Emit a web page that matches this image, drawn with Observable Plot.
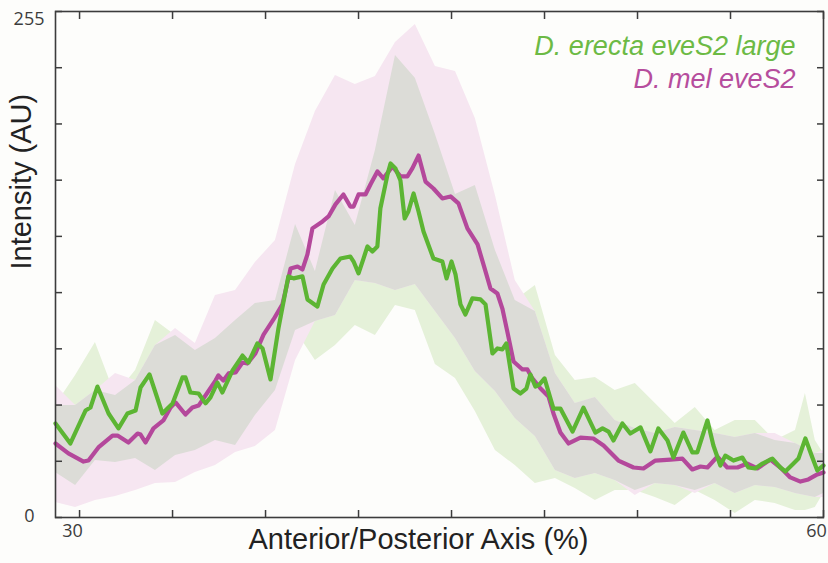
<!DOCTYPE html>
<html>
<head>
<meta charset="utf-8">
<script src="https://cdn.jsdelivr.net/npm/d3@7"></script>
<script src="https://cdn.jsdelivr.net/npm/@observablehq/plot@0.6"></script>
<style>
  html, body { margin: 0; padding: 0; background: #fdfdfb; }
  #chart { width: 828px; height: 563px; }
</style>
</head>
<body>
<div id="chart"></div>
<script>
// ---- Data ----
// D. erecta eveS2 large (green) mean line
const erectaX = [29.03,29.63,30.24,30.44,30.72,31.17,31.57,31.93,32.26,32.46,32.82,33.34,33.75,34.15,34.27,34.47,34.80,35.08,35.28,35.56,35.76,36.17,36.57,36.81,37.17,37.38,37.70,38.02,38.42,38.63,38.99,39.19,39.59,39.84,40.20,40.52,40.92,41.05,41.25,41.45,41.61,41.81,42.01,42.13,42.42,42.54,42.74,42.94,43.11,43.26,43.47,43.67,43.87,44.27,44.63,44.80,45.00,45.16,45.36,45.56,45.84,46.17,46.37,46.65,46.85,47.05,47.21,47.50,47.78,48.02,48.18,48.38,48.54,48.75,49.11,49.39,49.88,50.32,50.80,51.09,51.33,51.53,51.89,52.21,52.62,53.02,53.34,53.71,53.95,54.35,54.71,54.91,55.32,55.56,55.84,56.04,56.37,56.73,56.97,57.25,57.54,57.94,58.26,58.46,58.79,58.99,59.27,59.55,59.75,60.00];
const erectaY = [47.4,37.3,53.9,55.4,66.0,52.4,44.9,52.4,53.9,65.5,72.1,52.4,57.5,70.6,70.6,63.0,62.5,57.5,60.5,68.0,63.0,74.1,81.6,78.1,87.7,85.2,69.6,95.3,121.5,120.5,121.5,109.9,106.3,117.4,125.5,130.5,131.5,129.0,123.0,130.5,136.6,134.1,136.6,155.7,172.9,178.4,175.9,169.8,150.7,154.2,163.3,154.2,144.1,130.5,129.0,120.5,129.0,122.5,107.4,102.3,110.4,109.9,107.4,82.7,85.2,84.7,87.7,65.0,62.5,65.0,72.1,66.0,67.0,70.1,54.9,54.9,43.3,55.4,42.8,44.9,43.3,38.8,47.4,42.3,45.4,33.3,44.9,38.8,30.2,42.8,32.8,32.8,48.9,36.3,26.2,31.2,28.7,30.2,25.2,24.7,27.2,29.7,25.2,23.2,27.2,29.7,39.8,30.2,23.7,26.2];

// D. mel eveS2 (magenta) mean line
const melX = [29.03,29.55,30.16,30.36,30.76,31.33,31.53,31.97,32.34,32.46,32.66,32.98,33.38,33.67,33.87,34.27,34.55,34.80,35.16,35.48,35.60,35.80,36.01,36.29,36.57,36.77,37.09,37.42,37.82,38.18,38.51,38.79,38.99,39.19,39.39,39.80,40.04,40.32,40.64,40.92,41.05,41.25,41.53,41.73,42.01,42.25,42.62,42.94,43.22,43.42,43.67,43.95,44.27,44.63,44.96,45.28,45.64,46.05,46.37,46.57,46.85,47.05,47.25,47.50,47.86,48.06,48.26,48.59,48.91,49.11,49.39,49.72,50.20,50.72,51.13,51.73,52.34,52.74,53.22,53.83,54.31,54.71,55.04,55.32,55.72,56.12,56.53,56.93,57.33,57.86,58.26,58.66,59.07,59.39,59.75,60.00];
const melY = [37.3,32.3,28.2,28.7,35.3,41.3,41.3,37.8,42.3,41.8,37.8,44.9,48.9,55.4,58.0,51.9,55.4,56.4,63.0,69.0,71.6,69.0,72.6,73.1,78.1,77.6,82.7,92.2,99.8,107.4,125.5,126.5,125.0,132.6,145.7,149.2,151.7,157.8,162.8,156.7,156.7,162.8,162.8,167.8,174.4,170.9,176.9,171.9,171.9,175.9,182.4,169.3,165.8,160.8,161.8,158.3,145.7,137.6,124.0,115.4,112.9,105.3,93.7,78.6,74.6,74.6,70.1,65.0,61.0,52.4,42.8,37.3,40.3,39.8,36.3,28.7,25.2,24.7,28.7,29.2,29.7,24.2,25.7,25.2,30.7,25.2,25.2,27.2,24.7,29.2,25.2,20.2,18.1,19.2,21.7,22.7];

// Spread bands (shared x positions)
const bandX = [29.03,29.84,30.64,31.45,32.26,33.06,33.87,34.67,35.48,36.29,37.09,37.90,38.71,39.51,40.32,41.12,41.93,42.74,43.54,44.35,45.16,45.96,46.77,47.57,48.38,49.19,49.99,50.80,51.60,52.41,53.22,54.02,54.83,55.63,56.44,57.25,58.05,58.87,59.27,59.67,60.00];
const erectaHi = [56.4,71.6,88.2,61.5,74.1,99.3,91.7,84.2,90.2,99.3,107.9,109.4,147.7,124.0,164.8,147.2,185.0,232.8,221.3,193.0,162.8,167.3,134.6,109.4,116.9,81.6,69.0,70.6,64.0,67.5,57.5,47.4,55.4,43.8,48.9,48.9,38.8,43.8,62.5,38.8,32.3];
const erectaLo = [22.7,16.1,28.7,27.7,29.7,23.7,31.2,33.8,38.8,36.3,51.4,64.0,94.2,79.1,86.7,96.8,91.7,106.8,104.3,77.1,70.1,53.4,33.8,26.2,17.1,19.7,14.6,8.6,13.6,13.6,10.1,6.0,13.6,8.6,2.0,8.6,7.1,3.5,3.5,5.0,12.1];
const melHi = [66.5,56.4,64.0,72.6,69.0,86.7,95.3,87.7,111.9,114.4,128.5,139.6,177.9,204.6,222.8,218.2,222.3,239.4,248.5,227.3,224.8,201.1,162.3,119.4,103.8,72.6,57.5,60.5,48.9,44.9,42.3,45.4,43.8,42.3,40.3,42.3,42.3,37.3,34.8,32.3,33.8];
const melLo = [7.6,5.0,8.6,10.6,13.6,17.1,17.6,22.7,26.2,32.8,35.8,43.8,79.1,98.8,101.8,119.4,117.9,114.4,117.4,103.8,90.2,73.6,63.5,49.9,40.8,23.7,19.7,22.2,18.6,11.1,17.1,16.1,12.1,17.1,12.1,16.1,15.1,12.1,11.1,10.1,10.1];

// Axis ticks and labels
const xTicks = [30, 33.75, 37.5, 41.25, 45, 48.75, 52.5, 56.25, 60];
const yTicks = [0, 28.33, 56.67, 85, 113.33, 141.67, 170, 198.33, 226.67, 255];
const xTickLabels = [30, 60];
const yTickLabels = [0, 255];
const seriesNames = ["D. erecta eveS2 large", "D. mel eveS2"];
const xTitle = "Anterior/Posterior Axis (%)";
const yTitle = "Intensity (AU)";

// ---- Build tables ----
const erecta = erectaX.map((x, i) => ({x, y: erectaY[i]}));
const mel = melX.map((x, i) => ({x, y: melY[i]}));
const bands = bandX.map((x, i) => ({x, ghi: erectaHi[i], glo: erectaLo[i], mhi: melHi[i], mlo: melLo[i]}));

const GREEN = "#5cb533";
const MAGENTA = "#b4489b";
const AXIS = "#3c3c3c";
const SANS = "'Liberation Sans', Arial, sans-serif";
const TICKFONT = "'Open Sans', sans-serif";

const chart = Plot.plot({
  width: 828,
  height: 563,
  marginLeft: 55,
  marginRight: 5,
  marginTop: 11,
  marginBottom: 46,
  x: {domain: [29.03, 60], axis: null},
  y: {domain: [0, 255], axis: null},
  style: {background: "#fdfdfb", fontFamily: SANS, overflow: "visible"},
  marks: [
    Plot.areaY(bands, {x: "x", y1: "glo", y2: "ghi", fill: "#e5f1d9"}),
    Plot.areaY(bands, {x: "x", y1: "mlo", y2: "mhi", fill: "#f6e6f1"}),
    Plot.areaY(bands, {
      x: "x",
      y1: d => Math.max(d.glo, d.mlo),
      y2: d => Math.max(Math.max(d.glo, d.mlo), Math.min(d.ghi, d.mhi)),
      fill: "#dcdcd7"
    }),
    Plot.line(mel, {x: "x", y: "y", stroke: MAGENTA, strokeWidth: 4.2, strokeLinejoin: "round"}),
    Plot.line(erecta, {x: "x", y: "y", stroke: GREEN, strokeWidth: 4.2, strokeLinejoin: "round"}),
    Plot.frame({stroke: AXIS, strokeWidth: 1.6}),
    Plot.axisX({ticks: xTicks, anchor: "bottom", tickSize: -7, tickFormat: () => "", label: null, color: AXIS, strokeWidth: 1.5}),
    Plot.axisX({ticks: xTicks, anchor: "top", tickSize: -7, tickFormat: () => "", label: null, color: AXIS, strokeWidth: 1.5}),
    Plot.axisY({ticks: yTicks, anchor: "left", tickSize: -7, tickFormat: () => "", label: null, color: AXIS, strokeWidth: 1.5}),
    Plot.axisY({ticks: yTicks, anchor: "right", tickSize: -7, tickFormat: () => "", label: null, color: AXIS, strokeWidth: 1.5}),
    // tick labels
    Plot.text(xTickLabels, {x: d => d, frameAnchor: "bottom", dx: -7, dy: 19, text: d => String(d), fontSize: 18, fill: AXIS, fontFamily: TICKFONT}),
    Plot.text([yTickLabels[1]], {y: d => d, frameAnchor: "left", dx: -11, dy: 8, textAnchor: "end", text: d => String(d), fontSize: 18, fill: AXIS, fontFamily: TICKFONT}),
    Plot.text([yTickLabels[0]], {y: d => d, frameAnchor: "left", dx: -21, dy: -1, textAnchor: "end", text: d => String(d), fontSize: 18, fill: AXIS, fontFamily: TICKFONT}),
    // axis titles
    Plot.text([xTitle], {frameAnchor: "bottom", dx: -21, dy: 31, text: d => d, fontSize: 29, fill: "#222"}),
    Plot.text([yTitle], {frameAnchor: "left", dx: -34, dy: 5, rotate: -90, text: d => d, fontSize: 29, fill: "#222"}),
    // legend
    Plot.text([seriesNames[0]], {frameAnchor: "top-right", dx: -28, dy: 24, textAnchor: "end", text: d => d, fontSize: 27, fontStyle: "italic", fill: "#6cba45"}),
    Plot.text([seriesNames[1]], {frameAnchor: "top-right", dx: -28, dy: 57, textAnchor: "end", text: d => d, fontSize: 27, fontStyle: "italic", fill: "#b64d9d"})
  ]
});
document.getElementById("chart").appendChild(chart);
</script>
</body>
</html>
